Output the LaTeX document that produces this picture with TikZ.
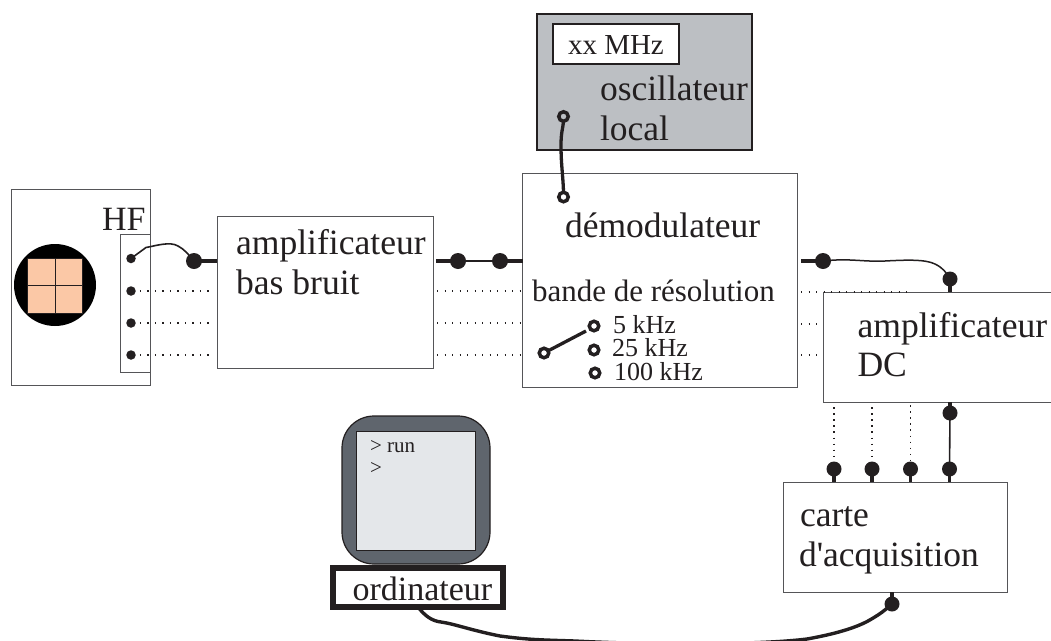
\documentclass[tikz,border=0pt]{standalone}
\usepackage{fontspec}
\setmainfont{Liberation Serif}
\newfontfamily\plainserif{Liberation Serif}
\definecolor{ink}{HTML}{231F20}
\definecolor{edge}{HTML}{555558}
\definecolor{oscgray}{HTML}{BCBFC3}
\definecolor{peach}{HTML}{FBC8A6}
\definecolor{shell}{HTML}{5F656D}
\definecolor{glass}{HTML}{E4E7EA}
\tikzset{
  boxn/.style={draw=edge,line width=1pt,rectangle,inner sep=0pt,outer sep=0pt},
  txt/.style={anchor=base west,inner sep=0pt,outer sep=0pt,text=ink,font=\fontsize{#1}{#1}\selectfont},
  bigdot/.style={circle,fill=ink,inner sep=0pt,outer sep=0pt,minimum size=16pt},
  pin/.style={circle,fill=ink,inner sep=0pt,outer sep=0pt,minimum size=9.5pt},
  ring/.style={circle,draw=ink,line width=3.5pt,inner sep=0pt,outer sep=0pt,minimum size=9.5pt},
  fat/.style={draw=ink,line width=3.5pt},
  wire/.style={draw=ink,line width=1.5pt},
  cable/.style={draw=ink,line width=3.3pt},
  dotline/.style={draw=ink,line width=1.4pt,dash pattern=on 1.4pt off 6.1pt},
  vdotline/.style={draw=ink,line width=1.5pt,dash pattern=on 1.5pt off 4.6pt}
}
\begin{document}
\begin{tikzpicture}[x=1pt,y=-1pt]
\useasboundingbox (0,0) rectangle (1051,640);
% boxes
\node[boxn,minimum width=139pt,minimum height=196pt] (sensor) at (80.5,287) {};
\node[boxn,minimum width=216pt,minimum height=152pt] (lna) at (325,292.5) {};
\node[boxn,minimum width=275pt,minimum height=214pt] (demod) at (660,280) {};
\node[boxn,draw=ink,line width=1.6pt,fill=oscgray,minimum width=215pt,minimum height=136pt] (osc) at (644.5,82) {};
\node[boxn,draw=ink,line width=1.6pt,fill=white,minimum width=126pt,minimum height=40pt] (freq) at (616,44) {};
\node[boxn,minimum width=224pt,minimum height=110pt] (carte) at (895,537) {};
% sensor
\node[circle,fill=black,inner sep=0pt,minimum size=82pt] (disc) at (55,285) {};
\node[draw=ink,line width=0.7pt,fill=peach,inner sep=0pt,minimum size=55pt] (quad) at (55,285.5) {};
\draw[ink,line width=0.8pt] (quad.north) -- (quad.south) (quad.west) -- (quad.east);
\node[boxn,minimum width=30pt,minimum height=138pt] (strip) at (135,303) {};
% pins
\node[pin] (p1) at (131,258.5) {};
\node[pin] (p2) at (131,291) {};
\node[pin] (p3) at (131,323) {};
\node[pin] (p4) at (131,355) {};
\node[bigdot] (b1) at (194,261) {};
\coordinate (lnaIn) at (lna.west |- b1);
\coordinate (lnaOut) at (436,261);
\node[bigdot] (b2) at (458,261) {};
\node[bigdot] (b3) at (500,261) {};
\coordinate (demIn) at (demod.west |- b3);
\coordinate (demOut) at (801,261);
\node[bigdot] (b4) at (823,261) {};
% dotted lines
\foreach \n/\yy in {p2/291,p3/323,p4/355}{
  \draw[dotline] (\n.east) ++(4,0) -- (214,\yy);
  \draw[dotline] (437,\yy) -- (520,\yy);
}
\coordinate (e1) at (801,292);
\coordinate (e1b) at (912,292);
\coordinate (e2) at (801,324);
\coordinate (e2b) at (820,324);
\coordinate (e3) at (801,355);
\coordinate (e3b) at (820,355);
\draw[dotline] (e2) -- (e2b);
\draw[dotline] (e3) -- (e3b);
% DC amp
\node[boxn,minimum width=232pt,minimum height=110pt] (dc) at (939,347) {};
\draw[dotline] (e1) -- (e1b);
\node[bigdot,minimum size=15pt] (b5) at (950,279) {};
\node[bigdot,minimum size=15pt] (b6) at (950,413) {};
\node[bigdot,minimum size=15pt] (c1) at (834,469) {};
\node[bigdot,minimum size=15pt] (c2) at (872,469) {};
\node[bigdot,minimum size=15pt] (c3) at (910.5,469) {};
\node[bigdot,minimum size=15pt] (c4) at (949.5,469) {};
\node[bigdot,minimum size=15pt] (c5) at (892,604) {};
% connectors
\draw[wire,line width=1.6pt] (p1.center) -- (146,247.5) .. controls (155,246) and (170,241) .. (178,246) .. controls (184,249) and (188,254) .. (b1.center);
\draw[fat] (b1.center) -- (lnaIn);
\draw[fat] (lnaOut) -- (b2.center);
\draw[wire] (b2.center) -- (b3.center);
\draw[fat] (b3.center) -- (demIn);
\draw[fat] (demOut) -- (b4.center);
\draw[wire] (b4.center) .. controls (850,258) and (862,262) .. (885,261) .. controls (905,260) and (925,259) .. (935,264) .. controls (943,268) and (946,272) .. (b5.center);
\draw[fat] (b5.center) -- (b5.center |- dc.north);
\draw[fat] (b6.center) -- (b6.center |- dc.south);
\draw[wire,line width=1.6pt] (b6.center) -- (c4.center);
\coordinate (v1) at (834,407);
\coordinate (v2) at (872,407);
\coordinate (v3) at (910.5,405);
\draw[vdotline] (v1) -- (c1.north);
\draw[vdotline] (v2) -- (c2.north);
\draw[vdotline] (v3) -- (c3.north);
\foreach \c in {c1,c2,c3,c4}{\draw[fat] (\c.center) -- (\c.center |- carte.north);}
\draw[fat] (c5.center) -- (c5.center |- carte.south);
% oscillator link
\node[ring] (r1) at (563.5,116.5) {};
\node[ring] (r2) at (563.5,197) {};
\draw[cable] (r1.south) .. controls (563,128) and (561,132) .. (561,145) .. controls (561,165) and (563,175) .. (r2.north);
% switch
\node[ring] (s0) at (544,353) {};
\node[ring] (s1) at (594,326) {};
\node[ring] (s2) at (594,350) {};
\node[ring] (s3) at (595,373) {};
\coordinate (swTip) at (586,331);
\draw[cable] (s0) -- (swTip);
% computer
\draw[draw=ink,line width=1.2pt,fill=shell,rounded corners=32pt] (342,416) rectangle (490,564);
\node[boxn,draw=ink,line width=0.8pt,fill=glass,minimum width=119pt,minimum height=119pt] (screen) at (415.5,490.5) {};
\node[boxn,draw=ink,line width=6pt,fill=white,minimum width=170pt,minimum height=39pt] (ord) at (418,587.5) {};
\draw[cable,line width=3.4pt] (ord.south) .. controls (425,616) and (432,621) .. (441,622) .. controls (455,624) and (470,630) .. (500,636) .. controls (530,640) and (545,640) .. (575,641) .. controls (650,645) and (760,645) .. (807,639) .. controls (835,634) and (855,628) .. (868,621) .. controls (875,617) and (882,613) .. (c5.center);
% text
\node[txt=34] (tHF) at (102,230) {HF};
\node[txt=35.6] (tA1) at (236,254.5) {amplificateur};
\node[txt=35.6] (tA2) at (236,294.5) {bas bruit};
\node[txt=29] (tF) at (568,54) {xx MHz};
\node[txt=35.5] (tO1) at (600,100) {oscillateur};
\node[txt=35.5] (tO2) at (600,140) {local};
\node[txt=35.5] (tD) at (565,237.5) {démodulateur};
\node[txt=31] (tB) at (532,301) {bande de résolution};
\node[txt=26] (tK1) at (613,333) {5 kHz};
\node[txt=26] (tK2) at (612,356.5) {25 kHz};
\node[txt=26] (tK3) at (614,380) {100 kHz};
\node[txt=35.6] (tC1) at (857.5,337) {amplificateur};
\node[txt=35.6] (tC2) at (857.5,376) {DC};
\node[txt=35.5] (tC3) at (800,526) {carte};
\node[txt=35.5] (tC4) at (799,566) {\plainserif d'acquisition};
\node[txt=21] (tR1) at (370,452) {> run};
\node[txt=21] (tR2) at (370,474) {>};
\node[txt=34] (tOrd) at (352.5,600.5) {ordinateur};
\end{tikzpicture}
\end{document}
